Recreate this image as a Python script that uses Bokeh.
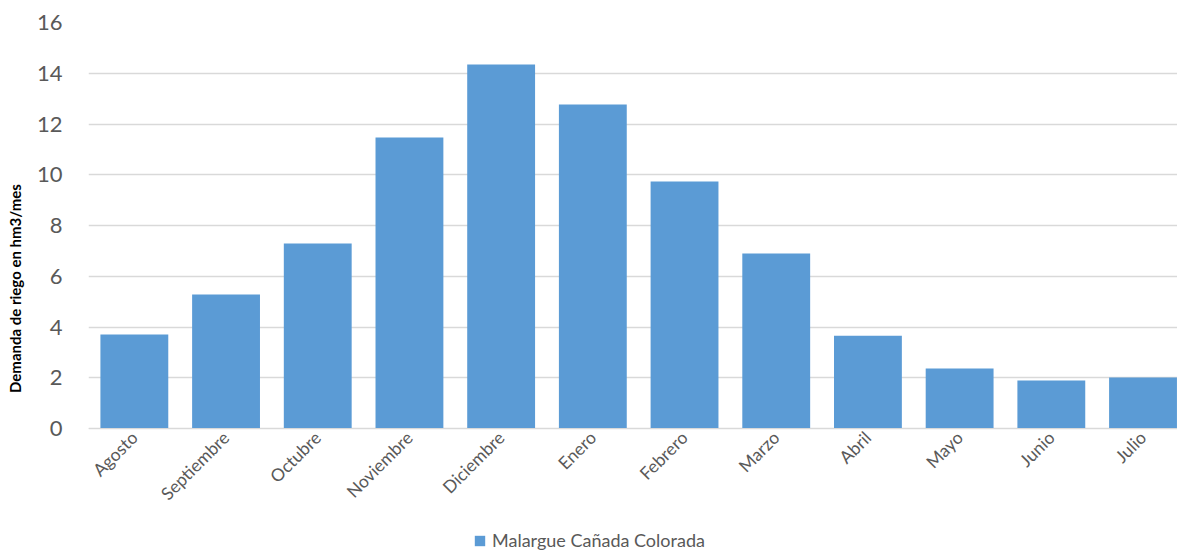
from math import pi

from bokeh.embed import file_html
from bokeh.models import ColumnDataSource, FixedTicker, Legend, LegendItem, Range1d
from bokeh.plotting import figure
from bokeh.resources import INLINE

# Monthly irrigation demand (hm3/month), irrigation year from August to July
months = ["Agosto", "Septiembre", "Octubre", "Noviembre", "Diciembre", "Enero",
          "Febrero", "Marzo", "Abril", "Mayo", "Junio", "Julio"]
demand = [3.70, 5.28, 7.29, 11.47, 14.34, 12.77, 9.73, 6.90, 3.66, 2.36, 1.89, 2.01]
series_name = "Malargue Cañada Colorada"
y_ticks = [0, 2, 4, 6, 8, 10, 12, 14, 16]

FONT = "Lato"
BAR = "#5b9bd5"
GREY = "#595959"

xs = list(range(len(months)))
src = ColumnDataSource(data=dict(x=xs, top=demand))

# The frame reaches down to the bottom of the page: the value axis spans 0..16 in
# the upper 406 px, and the area below zero holds the month labels and the legend.
FRAME_H = 532
PLOT_H = 406
y_bottom = 16 - 16 * FRAME_H / PLOT_H

p = figure(
    frame_width=1089, frame_height=FRAME_H,
    x_range=Range1d(-0.5, 11.376), y_range=Range1d(y_bottom, 16),
    output_backend="svg", toolbar_location=None,
    min_border_left=88, min_border_right=0, min_border_top=22, min_border_bottom=0,
)
p.outline_line_color = None
p.background_fill_color = "white"
p.border_fill_color = "white"

bars = p.vbar(x="x", bottom=0, top="top", width=0.74, source=src,
              fill_color=BAR, line_color=None)

# x axis: month names, rotated, drawn along the zero line
p.xaxis.fixed_location = 0
p.xaxis.ticker = FixedTicker(ticks=xs)
p.xaxis.major_label_overrides = {i: m for i, m in enumerate(months)}
p.xaxis.major_label_orientation = pi / 4
p.xaxis.major_label_text_font = FONT
p.xaxis.major_label_text_font_size = "17.5px"
p.xaxis.major_label_text_color = GREY
p.xaxis.major_tick_line_color = None
p.xaxis.minor_tick_line_color = None
p.xaxis.major_tick_out = 0
p.xaxis.major_tick_in = 0
p.xaxis.minor_tick_out = 0
p.xaxis.minor_tick_in = 0
p.xaxis.axis_line_color = "#d9d9d9"
p.xaxis.major_label_standoff = 6
p.xgrid.grid_line_color = None

# y axis
p.yaxis.bounds = (0, 16)
p.yaxis.ticker = FixedTicker(ticks=y_ticks)
p.yaxis.major_label_text_font = FONT
p.yaxis.major_label_text_font_size = "22px"
p.yaxis.major_label_text_color = GREY
p.yaxis.major_tick_line_color = None
p.yaxis.minor_tick_line_color = None
p.yaxis.axis_line_color = None
p.yaxis.major_label_standoff = 20
p.yaxis.axis_label = "Demanda de riego en hm3/mes"
p.yaxis.axis_label_text_font = FONT
p.yaxis.axis_label_text_font_style = "bold"
p.yaxis.axis_label_text_font_size = "15px"
p.yaxis.axis_label_text_color = "black"
p.yaxis.axis_label_standoff = 10
p.ygrid.grid_line_color = "#d9d9d9"
p.ygrid.grid_line_width = 1.5

legend = Legend(
    items=[LegendItem(label=series_name, renderers=[bars])],
    location=(385, 3), orientation="horizontal",
    label_text_font=FONT, label_text_font_size="18px", label_text_color=GREY,
    glyph_width=13, glyph_height=13, label_standoff=6,
    border_line_color=None, background_fill_alpha=0, padding=0, margin=0,
)
p.add_layout(legend, "center")

open("out.html", "w").write(file_html(p, INLINE))
